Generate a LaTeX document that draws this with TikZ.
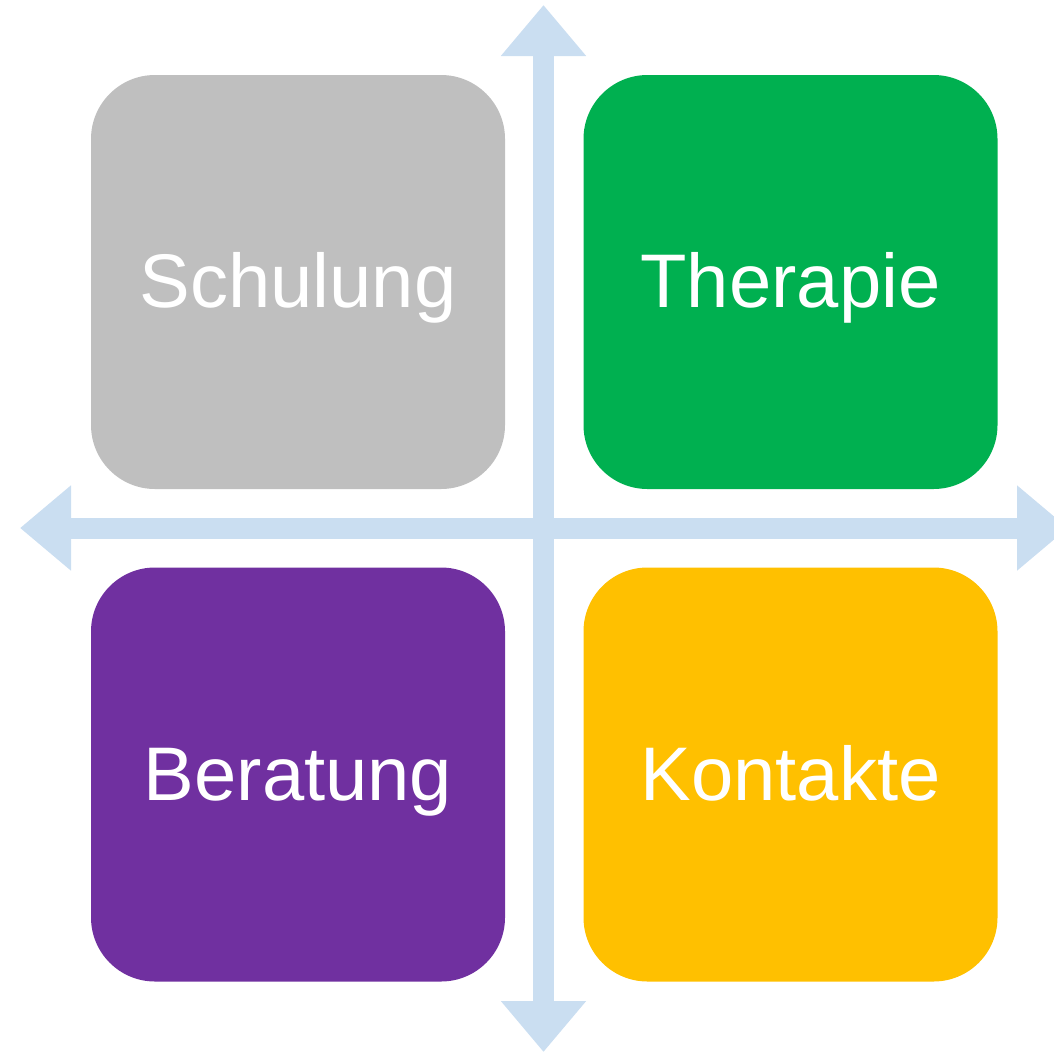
\documentclass[tikz,border=0pt]{standalone}
\usepackage{fontspec}
\setmainfont{Liberation Sans}
\usetikzlibrary{positioning, arrows.meta}
\definecolor{axisblue}{RGB}{202,222,241}
\definecolor{boxgray}{RGB}{191,191,191}
\definecolor{boxgreen}{RGB}{0,176,80}
\definecolor{boxpurple}{RGB}{112,48,160}
\definecolor{boxyellow}{RGB}{255,192,0}

\begin{document}
\begin{tikzpicture}
    [
        x=1pt, y=-1pt, node distance=492.5pt and 492.5pt, on grid,
        quad_box/.style={rounded corners=64pt, minimum width=414pt, minimum height=414pt, inner sep=0pt, text=white, font=\fontsize{76}{88}\selectfont, text height=51pt, text depth=0pt},
        axis_arrow/.style={line width=21pt, color=axisblue, {Triangle[width=82pt, length=51pt]}-{Triangle[width=82pt, length=51pt]}},
    ]
        \useasboundingbox (0,0) rectangle (1054,1052);
        \clip (0,0) rectangle (1054,1052);
        \coordinate (top) at (543.5,5);
        \coordinate (bottom) at (543.5,1052);
        \coordinate (left) at (20,528);
        \coordinate (right) at (1068,528);
        \draw[axis_arrow] (top) -- (bottom);
        \draw[axis_arrow] (left) -- (right);
        \node[quad_box, fill=boxgray] (schulung) at (298,282) {Schulung};
        \node[quad_box, fill=boxgreen] (therapie) [right = of schulung] {Therapie};
        \node[quad_box, fill=boxpurple] (beratung) [below = of schulung] {Beratung};
        \node[quad_box, fill=boxyellow] (kontakte) [below = of therapie] {Kontakte};
    \end{tikzpicture}
\end{document}
